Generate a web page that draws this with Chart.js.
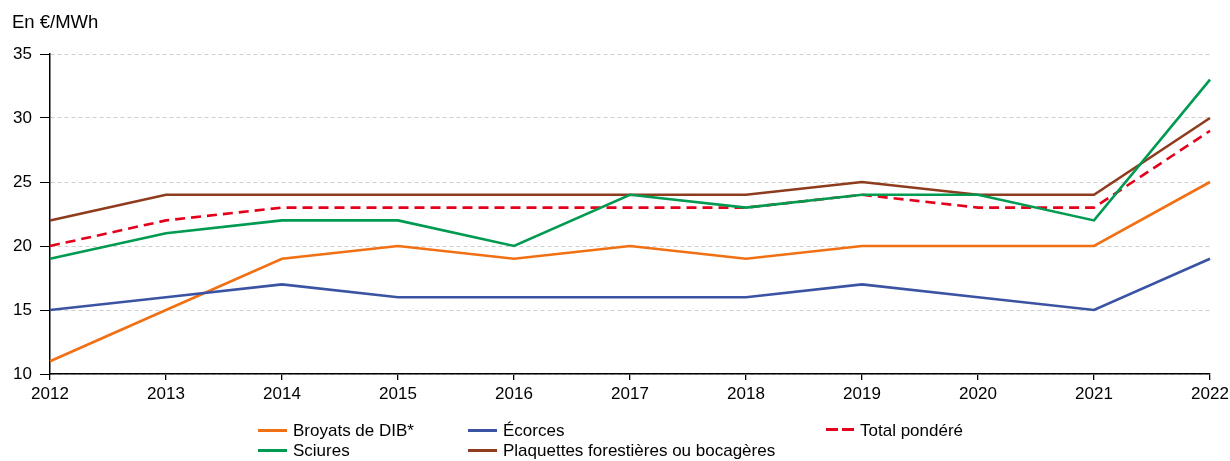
<!DOCTYPE html>
<html>
<head>
<meta charset="utf-8">
<script src="https://cdn.jsdelivr.net/npm/chart.js@4"></script>
<style>
  body { margin:0; background:#fff; font-family:"Liberation Sans", Arial, sans-serif; }
  #wrap { position:relative; width:1230px; height:461px; overflow:hidden; }
  #unit { position:absolute; left:12px; top:12px; font-size:18.5px; color:#000; line-height:20px; }
  .lg { position:absolute; font-size:17px; color:#000; white-space:nowrap; line-height:20px; }
  .lg i { display:inline-block; width:29px; height:0; border-top:3px solid; vertical-align:middle; margin-right:6px; position:relative; top:-1px; }
  .lg i.dash { border-top:none; width:28px; height:3px; top:-2px;
    background:linear-gradient(to right, #e3001b 0 12px, transparent 12px 16px, #e3001b 16px 28px); }
</style>
</head>
<body>
<div id="wrap">
  <canvas id="chart" width="1230" height="461"></canvas>
  <div id="unit">En €/MWh</div>
  <div class="lg" style="left:258px;top:421px"><i style="border-color:#f07013"></i>Broyats de DIB*</div>
  <div class="lg" style="left:468px;top:421px"><i style="border-color:#3b53a3"></i>Écorces</div>
  <div class="lg" style="left:826px;top:421px"><i class="dash"></i>Total pondéré</div>
  <div class="lg" style="left:258px;top:441px"><i style="border-color:#009a50"></i>Sciures</div>
  <div class="lg" style="left:468px;top:441px"><i style="border-color:#8e3b1e"></i>Plaquettes forestières ou bocagères</div>
</div>
<script>
// données (en €/MWh)
var annees = ["2012","2013","2014","2015","2016","2017","2018","2019","2020","2021","2022"];
var broyats = [11,15,19,20,19,20,19,20,20,20,25];
var ecorces = [15,16,17,16,16,16,16,17,16,15,19];
var totalPondere = [20,22,23,23,23,23,23,24,23,23,29];
var sciures = [19,21,22,22,20,24,23,24,24,22,33];
var plaquettes = [22,24,24,24,24,24,24,25,24,24,30];

var orange = '#f07013', bleu = '#3b53a3', rouge = '#e3001b', vert = '#009a50', brun = '#8e3b1e';

function serie(label, data, color, dash) {
  return {
    label: label, data: data, borderColor: color, backgroundColor: color,
    borderWidth: 2.6, borderDash: dash || [], pointRadius: 0, tension: 0, fill: false
  };
}

new Chart(document.getElementById('chart'), {
  type: 'line',
  data: {
    labels: annees,
    datasets: [
      serie('Écorces', ecorces, bleu),
      serie('Broyats de DIB*', broyats, orange),
      serie('Sciures', sciures, vert),
      serie('Total pondéré', totalPondere, rouge, [10, 6]),
      serie('Plaquettes forestières ou bocagères', plaquettes, brun)
    ]
  },
  options: {
    responsive: false,
    animation: false,
    layout: { padding: { top: 54, right: 0, left: 0, bottom: 0 } },
    plugins: { legend: { display: false }, tooltip: { enabled: false } },
    scales: {
      x: {
        offset: false,
        grid: { drawOnChartArea: false, drawTicks: true, tickLength: 6, tickColor: '#000', lineWidth: 1.3 },
        border: { color: '#000', width: 1.5 },
        ticks: { color: '#000', font: { family: 'Liberation Sans', size: 17 }, padding: 4, maxRotation: 0, autoSkip: false },
        afterFit: function(s) { s.height = 87; s.paddingLeft = 0; s.paddingRight = 20; }
      },
      y: {
        min: 10, max: 35,
        ticks: { stepSize: 5, color: '#000', font: { family: 'Liberation Sans', size: 17 }, padding: 8 },
        grid: { color: '#cfcfcf', lineWidth: 1, tickColor: '#000', tickLength: 10, tickBorderDash: [] },
        border: { color: '#000', width: 1.5, dash: [4, 3] },
        afterFit: function(s) { s.width = 50; }
      }
    }
  }
});
</script>
</body>
</html>
